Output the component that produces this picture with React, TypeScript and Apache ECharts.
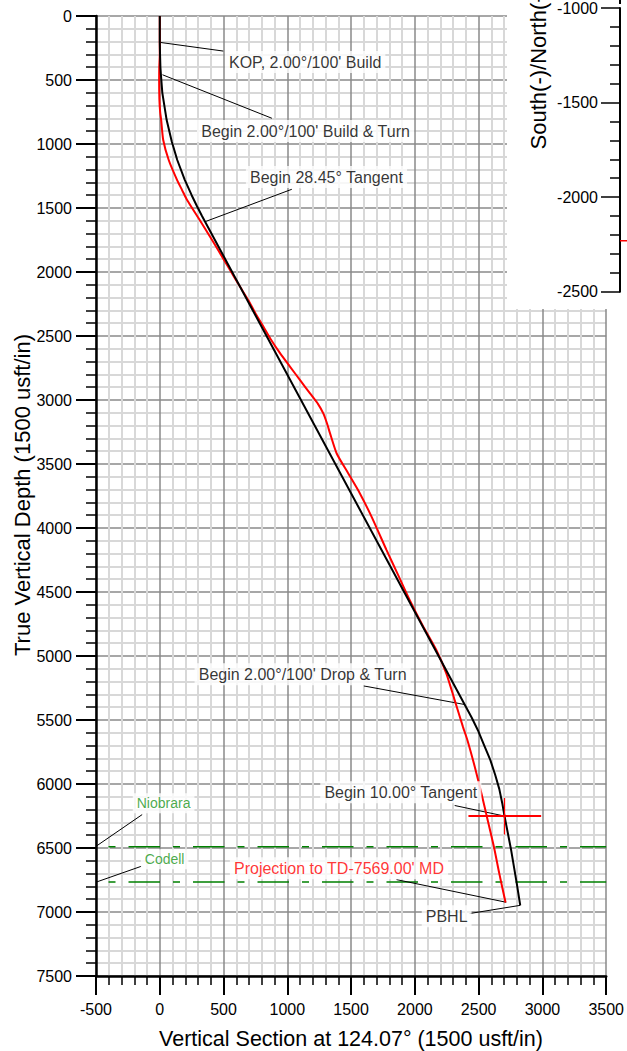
import React, { useEffect, useRef } from "react";
import * as echarts from "echarts";

const FONT = "'Liberation Sans', Arial, sans-serif";

// Vertical section (x) vs true vertical depth (y)
const planPath: number[][] = [
  [0, 0], [0, 200], [2, 300], [5, 400], [9, 460], [20, 600], [54, 813], [94, 980],
  [137, 1125], [196, 1280], [250, 1400], [289, 1480], [330, 1560],
  [2390, 5379], [2445, 5480], [2494, 5580], [2540, 5690], [2592, 5814], [2630, 5930],
  [2662, 6040], [2685, 6150], [2703, 6252], [2755, 6518], [2799, 6778], [2826, 6948],
];

const actualPath: number[][] = [
  [0, 0], [0, 300], [-4, 400], [-5, 500], [-3, 650], [3, 750], [11, 813], [27, 969],
  [70, 1125], [136, 1282], [175, 1360], [214, 1438], [313, 1594], [410, 1750], [500, 1900],
  [560, 2000], [620, 2100], [700, 2230], [760, 2340], [813, 2428], [866, 2519], [940, 2630],
  [1022, 2741], [1100, 2845], [1178, 2949], [1240, 3030], [1282, 3105], [1310, 3180],
  [1335, 3261], [1387, 3418], [1478, 3574], [1569, 3730], [1661, 3913], [1778, 4173],
  [1870, 4370], [1960, 4564], [2060, 4760], [2169, 4955], [2247, 5137], [2312, 5345],
  [2377, 5554], [2412, 5658], [2470, 5867], [2522, 6075], [2565, 6257], [2620, 6492],
  [2662, 6700], [2711, 6926],
];

const targetCrossH: number[][] = [[2420, 6250], [2990, 6250]];
const targetCrossV: number[][] = [[2703, 6110], [2703, 6395]];

const formationNames = ["Niobrara", "Codell"];
const formationTVD = [6490, 6765];

const annotationTexts = [
  "KOP, 2.00°/100' Build",
  "Begin 2.00°/100' Build & Turn",
  "Begin 28.45° Tangent",
  "Begin 2.00°/100' Drop & Turn",
  "Begin 10.00° Tangent",
  "Projection to TD-7569.00' MD",
  "PBHL",
  "Niobrara",
  "Codell",
];
const annotationPos: number[][] = [
  [1140, 360], [1143, 899], [1307, 1258], [1120, 5142], [1890, 6064],
  [1405, 6658], [2249, 7033], [30, 6150], [38, 6588],
];
const annotationColors = ["#000", "#000", "#000", "#000", "#000", "#ff0000", "#000", "#1a961a", "#1a961a"];
const annotationSizes = [16, 16, 16, 16, 16, 16, 16, 14, 14];

const leaders: number[][][] = [
  [[0, 206], [498, 274]],
  [[21, 459], [879, 799]],
  [[355, 1607], [1035, 1354]],
  [[1600, 5234], [2390, 5379]],
  [[2312, 6168], [2700, 6250]],
  [[1856, 6747], [2716, 6924]],
  [[2429, 7012], [2826, 6948]],
  [[-500, 6487], [-138, 6239]],
  [[-500, 6767], [-145, 6643]],
];

// Inset (plan view) axis
const insetMin = -2500;
const insetMax = -1000;
const insetTargetNS = -2231;

export default function App() {
  const ref = useRef<HTMLDivElement>(null);
  useEffect(() => {
    if (!ref.current) return;
    const chart = echarts.init(ref.current, undefined, { renderer: "svg" });
    const fmt = (v: number) => String(v);
    const option: any = {
      animation: false,
      backgroundColor: "#fff",
      grid: [
        { left: 96, top: 16, width: 511, height: 960 },
        { left: 620, top: 3, width: 500, height: 288.7 },
      ],
      xAxis: [
        {
          type: "value", gridIndex: 0, min: -500, max: 3500, interval: 500,
          axisLine: { onZero: false, lineStyle: { color: "#000", width: 2.5 } },
          axisTick: { length: 19, lineStyle: { color: "#000", width: 2 } },
          minorTick: { show: true, splitNumber: 5, length: 9, lineStyle: { color: "#000", width: 1.5 } },
          splitLine: { show: true, lineStyle: { color: "#8a8a8a", width: 1.5 } },
          minorSplitLine: { show: true, lineStyle: { color: "#d8d8d8", width: 2 } },
          axisLabel: { formatter: fmt, color: "#000", fontSize: 16, fontFamily: FONT, margin: 25 },
        },
        { type: "value", gridIndex: 1, min: 0, max: 1000, show: false },
      ],
      yAxis: [
        {
          type: "value", gridIndex: 0, min: 0, max: 7500, interval: 500, inverse: true,
          axisLine: { onZero: false, lineStyle: { color: "#000", width: 2.5 } },
          axisTick: { length: 20, lineStyle: { color: "#000", width: 2 } },
          minorTick: { show: true, splitNumber: 5, length: 10, lineStyle: { color: "#000", width: 1.5 } },
          splitLine: { show: true, lineStyle: { color: "#8a8a8a", width: 1.5 } },
          minorSplitLine: { show: true, lineStyle: { color: "#d8d8d8", width: 2 } },
          axisLabel: { formatter: fmt, color: "#000", fontSize: 16, fontFamily: FONT, margin: 24 },
        },
        {
          type: "value", gridIndex: 1, min: insetMin, max: insetMax, interval: 500, z: 10,
          axisLine: { onZero: false, lineStyle: { color: "#000", width: 2 } },
          axisTick: { length: 19, lineStyle: { color: "#000", width: 1.5 } },
          minorTick: { show: true, splitNumber: 5, length: 10, lineStyle: { color: "#000", width: 1.5 } },
          splitLine: { show: false },
          axisLabel: { formatter: fmt, color: "#000", fontSize: 16, fontFamily: FONT, margin: 22 },
        },
      ],
      graphic: [
        { type: "rect", z: 5, shape: { x: 507, y: 0, width: 120, height: 309 }, style: { fill: "#fff" } },
        { type: "line", z: 12, shape: { x1: 620, y1: 0, x2: 620, y2: 4 }, style: { stroke: "#000", lineWidth: 2 } },
        {
          type: "text", z: 12, x: 538, y: 66, rotation: Math.PI / 2,
          style: { text: "South(-)/North(+)", font: `22px ${FONT}`, fill: "#000", textAlign: "center", textVerticalAlign: "middle" },
        },
        {
          type: "text", z: 12, x: 351, y: 1039,
          style: { text: "Vertical Section at 124.07° (1500 usft/in)", font: `21.5px ${FONT}`, fill: "#000", textAlign: "center", textVerticalAlign: "middle" },
        },
        {
          type: "text", z: 12, x: 22, y: 495, rotation: Math.PI / 2,
          style: { text: "True Vertical Depth (1500 usft/in)", font: `22px ${FONT}`, fill: "#000", textAlign: "center", textVerticalAlign: "middle" },
        },
      ],
      series: [
        ...formationTVD.map((tvd, i) => ({
          type: "line", name: formationNames[i], xAxisIndex: 0, yAxisIndex: 0, z: 2,
          data: [[-500, tvd], [3500, tvd]], showSymbol: false, silent: true,
          lineStyle: { color: "#008000", width: 1.5, type: [31.5, 13, 7, 13], dashOffset: 32.4 },
        })),
        {
          type: "lines", coordinateSystem: "cartesian2d", xAxisIndex: 0, yAxisIndex: 0, z: 3,
          data: leaders.map((c) => ({ coords: c })),
          lineStyle: { color: "#000", width: 1, opacity: 1 },
        },
        {
          type: "line", name: "Actual", xAxisIndex: 0, yAxisIndex: 0, z: 3, data: actualPath,
          showSymbol: false, smooth: 0.2, lineStyle: { color: "#ff0000", width: 2 },
        },
        {
          type: "line", name: "Plan", xAxisIndex: 0, yAxisIndex: 0, z: 4, data: planPath,
          showSymbol: false, lineStyle: { color: "#000", width: 2 },
        },
        {
          type: "line", xAxisIndex: 0, yAxisIndex: 0, z: 4, data: targetCrossH,
          showSymbol: false, lineStyle: { color: "#ff0000", width: 2 },
        },
        {
          type: "line", xAxisIndex: 0, yAxisIndex: 0, z: 4, data: targetCrossV,
          showSymbol: false, lineStyle: { color: "#ff0000", width: 1.2 },
        },
        {
          type: "scatter", xAxisIndex: 0, yAxisIndex: 0, z: 6, symbolSize: 1,
          itemStyle: { color: "rgba(0,0,0,0)" },
          data: annotationTexts.map((t, i) => ({
            name: t, value: annotationPos[i],
            label: { color: annotationColors[i], fontSize: annotationSizes[i] },
          })),
          label: {
            show: true, position: "inside", formatter: "{b}", fontFamily: FONT,
            backgroundColor: "#fff", padding: [3, 4],
          },
        },
        {
          type: "line", xAxisIndex: 1, yAxisIndex: 1, z: 11,
          data: [[0, insetTargetNS], [200, insetTargetNS]],
          showSymbol: false, lineStyle: { color: "#ff0000", width: 1.5 },
        },
      ],
    };
    chart.setOption(option);
    return () => chart.dispose();
  }, []);
  return <div ref={ref} style={{ position: "absolute", left: 0, top: 0, width: 627, height: 1051 }} />;
}
